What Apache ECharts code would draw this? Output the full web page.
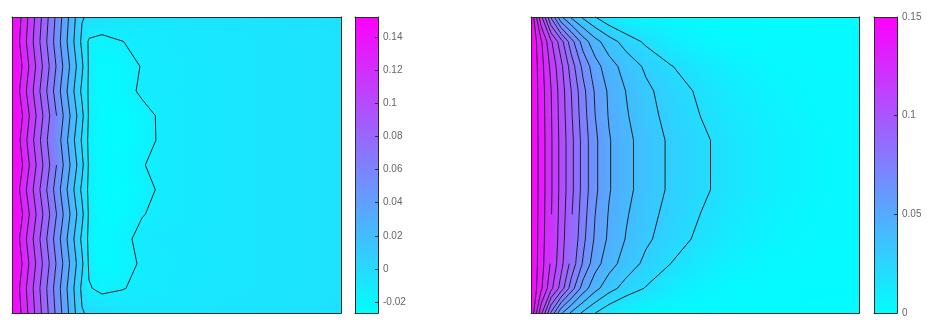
<!DOCTYPE html>
<html><head><meta charset="utf-8">
<script src="https://cdn.jsdelivr.net/npm/echarts@6/dist/echarts.min.js"></script>
<style>html,body{margin:0;padding:0;background:#fff}#c{width:927px;height:326px}</style>
</head><body><div id="c"></div>
<script>
// ---------- data ----------
const leftX = [0, 0.0213, 0.0426, 0.0638, 0.0851, 0.1064, 0.1277, 0.1489, 0.1702, 0.1915, 0.2128, 0.2340, 0.2736, 0.3343, 0.3951, 0.4559, 0.5471, 0.6687, 0.8207, 1];
const rightX = [0, 0.0305, 0.061, 0.0915, 0.122, 0.1585, 0.1951, 0.2378, 0.2896, 0.3506, 0.4268, 0.5183, 0.6098, 0.7317, 0.8689, 1];
const rowsY = [1, 0.9167, 0.8333, 0.75, 0.6667, 0.5833, 0.5, 0.4167, 0.3333, 0.25, 0.1667, 0.0833, 0];

const leftValues = [
 [0.152, 0.1395, 0.1240, 0.1086, 0.0931, 0.0777, 0.0622, 0.0467, 0.0312, 0.0158, 0.0010, -0.002, -0.005, -0.008, -0.010, -0.010, -0.009, -0.008, -0.007, -0.006],
 [0.152, 0.1362, 0.1207, 0.1053, 0.0898, 0.0744, 0.0589, 0.0434, 0.0279, 0.0125, -0.0030, -0.017, -0.019, -0.0152, -0.013, -0.012, -0.010, -0.009, -0.008, -0.007],
 [0.152, 0.1417, 0.1262, 0.1108, 0.0953, 0.0799, 0.0644, 0.0489, 0.0334, 0.0180, 0.0025, -0.017, -0.022, -0.021, -0.0143, -0.0125, -0.011, -0.009, -0.008, -0.007],
 [0.152, 0.1362, 0.1207, 0.1053, 0.0898, 0.0744, 0.0589, 0.0434, 0.0279, 0.0125, -0.0030, -0.017, -0.022, -0.021, -0.0125, -0.012, -0.011, -0.009, -0.008, -0.007],
 [0.152, 0.1428, 0.1273, 0.1119, 0.0964, 0.0810, 0.0655, 0.0500, 0.0345, 0.0191, 0.0036, -0.017, -0.023, -0.024, -0.020, -0.0125, -0.011, -0.009, -0.008, -0.007],
 [0.152, 0.1373, 0.1218, 0.1064, 0.0909, 0.0755, 0.0600, 0.0445, 0.0290, 0.0136, -0.0019, -0.018, -0.023, -0.024, -0.020, -0.0128, -0.011, -0.009, -0.008, -0.007],
 [0.152, 0.1428, 0.1273, 0.1119, 0.0964, 0.0810, 0.0655, 0.0500, 0.0345, 0.0191, 0.0036, -0.017, -0.023, -0.023, -0.0155, -0.0125, -0.011, -0.009, -0.008, -0.007],
 [0.152, 0.1362, 0.1207, 0.1053, 0.0898, 0.0744, 0.0589, 0.0434, 0.0279, 0.0125, -0.0030, -0.018, -0.023, -0.024, -0.020, -0.0125, -0.011, -0.009, -0.008, -0.007],
 [0.152, 0.1428, 0.1273, 0.1119, 0.0964, 0.0810, 0.0655, 0.0500, 0.0345, 0.0191, 0.0036, -0.017, -0.023, -0.023, -0.0155, -0.0125, -0.011, -0.009, -0.008, -0.007],
 [0.152, 0.1362, 0.1207, 0.1053, 0.0898, 0.0744, 0.0589, 0.0434, 0.0279, 0.0125, -0.0030, -0.018, -0.022, -0.018, -0.012, -0.011, -0.010, -0.009, -0.008, -0.007],
 [0.152, 0.1417, 0.1262, 0.1108, 0.0953, 0.0799, 0.0644, 0.0489, 0.0334, 0.0180, 0.0025, -0.017, -0.022, -0.021, -0.013, -0.012, -0.011, -0.009, -0.008, -0.007],
 [0.152, 0.1362, 0.1207, 0.1053, 0.0898, 0.0744, 0.0589, 0.0434, 0.0279, 0.0125, -0.0030, -0.014, -0.018, -0.0155, -0.013, -0.012, -0.010, -0.009, -0.008, -0.007],
 [0.152, 0.1395, 0.1240, 0.1086, 0.0931, 0.0777, 0.0622, 0.0467, 0.0312, 0.0158, 0.0010, -0.002, -0.005, -0.008, -0.010, -0.010, -0.009, -0.008, -0.007, -0.006]
];

const rightValues = [
 [0.15, 0.1133, 0.0788, 0.0515, 0.0387, 0.0283, 0.0202, 0.0126, 0.0067, 0.0035, 0.003, 0.0028, 0.0026, 0.0024, 0.0022, 0.002],
 [0.15, 0.1317, 0.1117, 0.0942, 0.0746, 0.0554, 0.0436, 0.0345, 0.0260, 0.0181, 0.0106, 0.0053, 0.003, 0.003, 0.003, 0.003],
 [0.15, 0.1341, 0.1175, 0.1026, 0.0857, 0.0673, 0.0542, 0.0442, 0.0361, 0.0283, 0.0205, 0.0136, 0.0085, 0.0044, 0.003, 0.003],
 [0.15, 0.1351, 0.1203, 0.1052, 0.0903, 0.0731, 0.0589, 0.0484, 0.0398, 0.0321, 0.0253, 0.0180, 0.0118, 0.0068, 0.0036, 0.003],
 [0.15, 0.1354, 0.1209, 0.1059, 0.0917, 0.0745, 0.0602, 0.0492, 0.0410, 0.0336, 0.0266, 0.0198, 0.0136, 0.0081, 0.0043, 0.003],
 [0.15, 0.1357, 0.1214, 0.1067, 0.0933, 0.0763, 0.0622, 0.0508, 0.0427, 0.0355, 0.0283, 0.0219, 0.0159, 0.0095, 0.0051, 0.003],
 [0.15, 0.1357, 0.1214, 0.1067, 0.0933, 0.0763, 0.0622, 0.0508, 0.0427, 0.0355, 0.0283, 0.0219, 0.0159, 0.0095, 0.0051, 0.003],
 [0.15, 0.1357, 0.1214, 0.1067, 0.0933, 0.0763, 0.0622, 0.0508, 0.0427, 0.0355, 0.0283, 0.0219, 0.0159, 0.0095, 0.0051, 0.003],
 [0.15, 0.1354, 0.1209, 0.1059, 0.0917, 0.0745, 0.0602, 0.0492, 0.0410, 0.0336, 0.0266, 0.0198, 0.0136, 0.0081, 0.0043, 0.003],
 [0.15, 0.1350, 0.1200, 0.1050, 0.0900, 0.0728, 0.0586, 0.0481, 0.0395, 0.0318, 0.0249, 0.0176, 0.0115, 0.0066, 0.0035, 0.003],
 [0.15, 0.1344, 0.1185, 0.1033, 0.0871, 0.0689, 0.0542, 0.0442, 0.0356, 0.0275, 0.0199, 0.0124, 0.0079, 0.0041, 0.003, 0.003],
 [0.15, 0.1321, 0.1128, 0.0958, 0.0755, 0.0554, 0.0432, 0.0339, 0.0260, 0.0193, 0.0118, 0.0066, 0.0036, 0.003, 0.003, 0.003],
 [0.15, 0.1133, 0.0788, 0.0515, 0.0387, 0.0283, 0.0202, 0.0126, 0.0067, 0.0035, 0.003, 0.0028, 0.0026, 0.0024, 0.0022, 0.002]
];

const leftLevels = [-0.015, 0, 0.015, 0.03, 0.045, 0.06, 0.075, 0.09, 0.105, 0.12, 0.135];
const rightLevels = [0.02, 0.03, 0.04, 0.05, 0.06, 0.07, 0.08, 0.09, 0.10, 0.11, 0.12, 0.13, 0.14];
const leftRange = [-0.0265, 0.152];
const rightRange = [0, 0.15];
const leftTicks = [-0.02, 0, 0.02, 0.04, 0.06, 0.08, 0.1, 0.12, 0.14];
const rightTicks = [0, 0.05, 0.1, 0.15];
const palette = ['#00ffff', '#ff00ff'];

// ---------- helpers ----------
const c0 = echarts.color.parse(palette[0]);
const c1 = echarts.color.parse(palette[1]);
function colorAt(v, range) {
  let t = (v - range[0]) / (range[1] - range[0]);
  t = Math.max(0, Math.min(1, t));
  const r = Math.round(c0[0] + (c1[0] - c0[0]) * t);
  const g = Math.round(c0[1] + (c1[1] - c0[1]) * t);
  const b = Math.round(c0[2] + (c1[2] - c0[2]) * t);
  return 'rgb(' + r + ',' + g + ',' + b + ')';
}
function cellData(xs, ys) {
  const d = [];
  for (let j = 0; j < ys.length - 1; j++)
    for (let i = 0; i < xs.length - 1; i++) d.push([i, j]);
  return d;
}
function fillSeries(gi, xs, ys, vals, range) {
  return {
    type: 'custom', xAxisIndex: gi * 2, yAxisIndex: gi * 2, silent: true, animation: false, z: 2,
    data: cellData(xs, ys),
    renderItem(params, api) {
      const i = api.value(0), j = api.value(1);
      const pA = api.coord([xs[i], ys[j]]);
      const pB = api.coord([xs[i + 1], ys[j + 1]]);
      const x0 = pA[0], x1 = pB[0], y0 = pA[1], y1 = pB[1];
      const vTL = vals[j][i], vTR = vals[j][i + 1], vBL = vals[j + 1][i], vBR = vals[j + 1][i + 1];
      const h = y1 - y0;
      const n = Math.max(1, Math.ceil(h / 2));
      const rx0 = Math.floor(x0), rx1 = Math.ceil(x1);
      const ch = [];
      for (let k = 0; k < n; k++) {
        const s = (k + 0.5) / n;
        const vl = vTL + (vBL - vTL) * s, vr = vTR + (vBR - vTR) * s;
        const ya = Math.floor(y0 + h * k / n), yb = Math.ceil(y0 + h * (k + 1) / n);
        ch.push({
          type: 'rect',
          shape: { x: rx0, y: ya, width: rx1 - rx0 + 1, height: yb - ya + 1 },
          style: { fill: new echarts.graphic.LinearGradient(x0, 0, x1, 0, [
            { offset: 0, color: colorAt(vl, range) }, { offset: 1, color: colorAt(vr, range) }], true) }
        });
      }
      return { type: 'group', children: ch };
    }
  };
}
function contourSeries(gi, xs, ys, vals, levels) {
  return {
    type: 'custom', xAxisIndex: gi * 2, yAxisIndex: gi * 2, silent: true, animation: false, z: 3,
    data: cellData(xs, ys),
    renderItem(params, api) {
      const i = api.value(0), j = api.value(1);
      const pTL = api.coord([xs[i], ys[j]]), pTR = api.coord([xs[i + 1], ys[j]]);
      const pBL = api.coord([xs[i], ys[j + 1]]), pBR = api.coord([xs[i + 1], ys[j + 1]]);
      const vTL = vals[j][i], vTR = vals[j][i + 1], vBL = vals[j + 1][i], vBR = vals[j + 1][i + 1];
      const edges = { top: [pTL, pTR, vTL, vTR], right: [pTR, pBR, vTR, vBR], bottom: [pBL, pBR, vBL, vBR], left: [pTL, pBL, vTL, vBL] };
      const ch = [];
      levels.forEach(L => {
        const pts = {};
        let cnt = 0;
        for (const k in edges) {
          const [pa, pb, va, vb] = edges[k];
          if ((va - L) * (vb - L) < 0) {
            const t = (L - va) / (vb - va);
            pts[k] = [pa[0] + (pb[0] - pa[0]) * t, pa[1] + (pb[1] - pa[1]) * t];
            cnt++;
          }
        }
        const segs = [];
        if (cnt === 2) {
          const ks = Object.keys(pts);
          segs.push([pts[ks[0]], pts[ks[1]]]);
        } else if (cnt === 4) {
          const c = (vTL + vTR + vBL + vBR) / 4 > L;
          if ((vTL > L) !== c) segs.push([pts.top, pts.left]);
          if ((vTR > L) !== c) segs.push([pts.top, pts.right]);
          if ((vBR > L) !== c) segs.push([pts.right, pts.bottom]);
          if ((vBL > L) !== c) segs.push([pts.bottom, pts.left]);
        }
        segs.forEach(sg => ch.push({ type: 'line', shape: { x1: sg[0][0], y1: sg[0][1], x2: sg[1][0], y2: sg[1][1] },
          style: { stroke: '#1e2226', lineWidth: 1 } }));
      });
      return { type: 'group', children: ch };
    }
  };
}
function barSeries(gi, range) {
  return {
    type: 'custom', xAxisIndex: gi * 2, yAxisIndex: gi * 2, silent: true, animation: false, z: 2,
    data: [[0]],
    renderItem(params, api) {
      const a = api.coord([0, range[1]]), b = api.coord([1, range[0]]);
      return { type: 'rect', shape: { x: a[0], y: a[1], width: b[0] - a[0], height: b[1] - a[1] },
        style: { fill: new echarts.graphic.LinearGradient(0, a[1], 0, b[1], [
          { offset: 0, color: palette[1] }, { offset: 1, color: palette[0] }], true) } };
    }
  };
}
const fmt = v => String(+(+v).toFixed(4));
const lineStyle = { color: '#2b2b2b', width: 1 };
function frameAxes(gi, ymin, ymax, ticks) {
  const xs = [
    { gridIndex: gi, type: 'value', min: 0, max: 1, position: 'bottom', z: 10, axisLine: { show: true, onZero: false, lineStyle }, axisTick: { show: false }, axisLabel: { show: false }, splitLine: { show: false } },
    { gridIndex: gi, type: 'value', min: 0, max: 1, position: 'top', z: 10, axisLine: { show: true, onZero: false, lineStyle }, axisTick: { show: false }, axisLabel: { show: false }, splitLine: { show: false } }
  ];
  const ys = [
    { gridIndex: gi, type: 'value', min: ymin, max: ymax, position: 'left', z: 10, axisLine: { show: true, onZero: false, lineStyle }, axisTick: { show: false }, axisLabel: { show: false }, splitLine: { show: false } },
    { gridIndex: gi, type: 'value', min: ymin, max: ymax, position: 'right', z: 10, axisLine: { show: true, onZero: false, lineStyle },
      axisTick: ticks ? { show: true, inside: true, length: 3, lineStyle, customValues: ticks } : { show: false },
      axisLabel: ticks ? { show: true, customValues: ticks, formatter: fmt, margin: 5, color: '#666', fontSize: 10, fontFamily: 'Liberation Sans, Arial, sans-serif' } : { show: false },
      splitLine: { show: false } }
  ];
  return { xs, ys };
}
const f0 = frameAxes(0, 0, 1, null), f1 = frameAxes(1, leftRange[0], leftRange[1], leftTicks);
const f2 = frameAxes(2, 0, 1, null), f3 = frameAxes(3, rightRange[0], rightRange[1], rightTicks);

const chart = echarts.init(document.getElementById('c'), null, { renderer: 'canvas' });
chart.setOption({
  backgroundColor: '#ffffff',
  animation: false,
  grid: [
    { left: 12, top: 17, width: 329, height: 296 },
    { left: 355, top: 17, width: 23, height: 296 },
    { left: 531, top: 17, width: 328, height: 296 },
    { left: 874, top: 17, width: 23, height: 296 }
  ],
  xAxis: [].concat(f0.xs, f1.xs, f2.xs, f3.xs),
  yAxis: [].concat(f0.ys, f1.ys, f2.ys, f3.ys),
  series: [
    fillSeries(0, leftX, rowsY, leftValues, leftRange),
    contourSeries(0, leftX, rowsY, leftValues, leftLevels),
    barSeries(1, leftRange),
    fillSeries(2, rightX, rowsY, rightValues, rightRange),
    contourSeries(2, rightX, rowsY, rightValues, rightLevels),
    barSeries(3, rightRange)
  ]
});
</script></body></html>
